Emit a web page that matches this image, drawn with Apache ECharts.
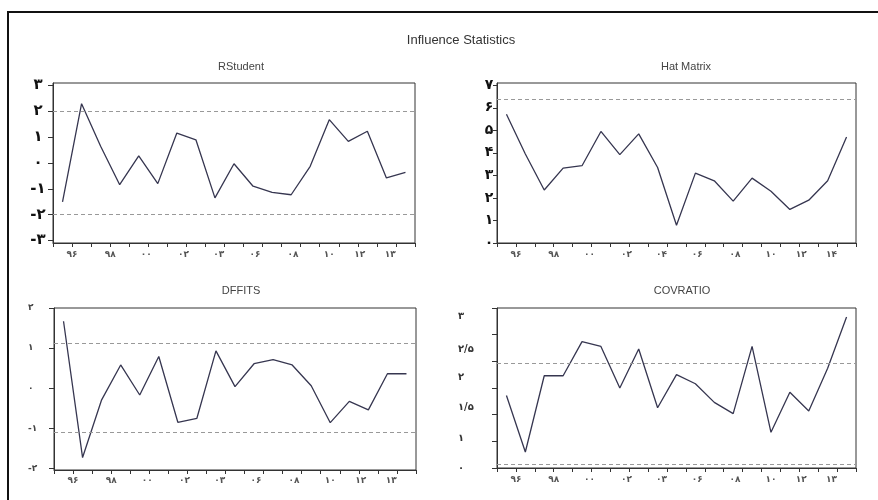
<!DOCTYPE html>
<html>
<head>
<meta charset="utf-8">
<script src="https://cdn.jsdelivr.net/npm/echarts@6/dist/echarts.min.js"></script>
<style>
html,body{margin:0;padding:0;background:#fff;}
#c{width:878px;height:500px;}
</style>
</head>
<body>
<div id="c"></div>
<script>
// ---- data ----
var mainTitle = 'Influence Statistics';
var panelTitles = ['RStudent', 'Hat Matrix', 'DFFITS', 'COVRATIO'];
var years = [1995,1996,1997,1998,1999,2000,2001,2002,2003,2004,2005,2006,2007,2008,2009,2010,2011,2012,2013];
var rstudent = [-1.51, 2.30, 0.65, -0.84, 0.28, -0.80, 1.16, 0.90, -1.35, -0.03, -0.90, -1.14, -1.23, -0.13, 1.68, 0.84, 1.23, -0.58, -0.36];
var hatMatrix = [5.71, 3.95, 2.35, 3.32, 3.43, 4.95, 3.92, 4.84, 3.35, 0.79, 3.10, 2.76, 1.86, 2.88, 2.30, 1.49, 1.90, 2.76, 4.70];
var dffits = [1.67, -1.73, -0.29, 0.58, -0.17, 0.79, -0.85, -0.75, 0.93, 0.04, 0.61, 0.71, 0.58, 0.06, -0.86, -0.33, -0.54, 0.36, 0.36];
var covratio = [1.36, 0.30, 1.73, 1.73, 2.37, 2.28, 1.50, 2.23, 1.13, 1.75, 1.58, 1.23, 1.02, 2.28, 0.67, 1.42, 1.07, 1.87, 2.83];
var refRStudent = [2, -2];
var refHat = [6.37];
var refDffits = [1.12, -1.11];
var refCov = [1.96, 0.07];
var xLabels1 = ['۹۶','۹۸','۰۰','۰۲','۰۳','۰۶','۰۸','۱۰','۱۲','۱۳'];
var xLabels2 = ['۹۶','۹۸','۰۰','۰۲','۰۴','۰۶','۰۸','۱۰','۱۲','۱۴'];
var yTicks1 = [-3,-2,-1,0,1,2,3];
var yTicks2 = [0,1,2,3,4,5,6,7];
var yTicks3 = [-2,-1,0,1,2];
var yLabels4 = ['۰','۱','۱/۵','۲','۲/۵','۳'];

// ---- helpers ----
function fa(n){
  var d = '۰۱۲۳۴۵۶۷۸۹';
  return String(n).replace(/[0-9]/g, function(c){ return d[+c]; });
}
var xLabelPos = [1, 3, 4.9, 6.85, 8.7, 10.6, 12.6, 14.5, 16.1, 17.7];
var yLabelPos4 = [0, 0.56, 1.14, 1.70, 2.23, 2.84];
function nearestIdx(arr, v){
  var b = 0, bd = Infinity;
  for (var i = 0; i < arr.length; i++){ var d = Math.abs(arr[i]-v); if (d < bd){ bd = d; b = i; } }
  return b;
}
var FONT = 'DejaVu Sans';
var grids = [
  {left:53, top:83, width:362, height:160},
  {left:497, top:83, width:359, height:160},
  {left:54, top:308, width:362, height:162},
  {left:497, top:308, width:359, height:160}
];
var seriesVals = [rstudent, hatMatrix, dffits, covratio];
var refs = [refRStudent, refHat, refDffits, refCov];

function xAxis(i, labels, margin){
  return {
    type:'value', gridIndex:i, min:0, max:years.length, interval:1,
    axisLine:{show:true, onZero:false, lineStyle:{color:'#333', width:1}},
    axisTick:{show:true, length:4, lineStyle:{color:'#333'}},
    splitLine:{show:false},
    axisLabel:{
      customValues:xLabelPos, margin:margin, fontSize:9, fontWeight:'bold',
      color:'#555', fontFamily:FONT,
      formatter:function(v){ return labels[nearestIdx(xLabelPos, v)]; }
    }
  };
}

var option = {
  animation:false,
  backgroundColor:'#fff',
  title:[
    {text:mainTitle, left:456, top:29, textAlign:'center',
     textStyle:{fontFamily:'Liberation Sans', fontSize:13, fontWeight:'normal', color:'#333'}},
    {text:panelTitles[0], left:236, top:56, textAlign:'center',
     textStyle:{fontFamily:'Liberation Sans', fontSize:11, fontWeight:'normal', color:'#444'}},
    {text:panelTitles[1], left:681, top:56, textAlign:'center',
     textStyle:{fontFamily:'Liberation Sans', fontSize:11, fontWeight:'normal', color:'#444'}},
    {text:panelTitles[2], left:236, top:280, textAlign:'center',
     textStyle:{fontFamily:'Liberation Sans', fontSize:11, fontWeight:'normal', color:'#444'}},
    {text:panelTitles[3], left:677, top:280, textAlign:'center',
     textStyle:{fontFamily:'Liberation Sans', fontSize:11, fontWeight:'normal', color:'#444'}}
  ],
  graphic:[
    {type:'rect', shape:{x:8, y:12, width:900, height:520}, style:{fill:'none', stroke:'#111', lineWidth:2}, silent:true}
  ],
  grid: grids.map(function(g){ return Object.assign({show:true, borderColor:'#333', borderWidth:1, backgroundColor:'transparent'}, g); }),
  xAxis:[ xAxis(0, xLabels1, 7), xAxis(1, xLabels2, 7), xAxis(2, xLabels1, 6), xAxis(3, xLabels1, 7) ],
  yAxis:[
    {type:'value', gridIndex:0, min:-3.1, max:3.1,
     axisLine:{show:true, lineStyle:{color:'#333'}},
     axisTick:{show:true, length:5, customValues:yTicks1, lineStyle:{color:'#333'}},
     splitLine:{show:false},
     axisLabel:{customValues:yTicks1, align:'center', margin:15, fontSize:15, fontWeight:'bold', color:'#111', fontFamily:FONT,
       formatter:function(v){ return fa(v); }}},
    {type:'value', gridIndex:1, min:0, max:7.1,
     axisLine:{show:true, lineStyle:{color:'#333'}},
     axisTick:{show:true, length:4, customValues:yTicks2, lineStyle:{color:'#333'}},
     splitLine:{show:false},
     axisLabel:{customValues:yTicks2, align:'center', margin:8, fontSize:14, fontWeight:'bold', color:'#111', fontFamily:FONT,
       formatter:function(v){ return fa(v); }}},
    {type:'value', gridIndex:2, min:-2.04, max:2,
     axisLine:{show:true, lineStyle:{color:'#333'}},
     axisTick:{show:true, length:5, customValues:yTicks3, lineStyle:{color:'#333'}},
     splitLine:{show:false},
     axisLabel:{customValues:yTicks3, align:'left', margin:26, fontSize:9, fontWeight:'bold', color:'#444', fontFamily:FONT,
       formatter:function(v){ return fa(v); }}},
    {type:'value', gridIndex:3, min:0, max:3, interval:0.5,
     axisLine:{show:true, lineStyle:{color:'#333'}},
     axisTick:{show:true, length:5, lineStyle:{color:'#333'}},
     splitLine:{show:false},
     axisLabel:{customValues:yLabelPos4, align:'left', margin:39, fontSize:10, fontWeight:'bold', color:'#333', fontFamily:FONT,
       formatter:function(v){ return yLabels4[nearestIdx(yLabelPos4, v)]; }}}
  ],
  series: seriesVals.map(function(vals, i){
    return {
      type:'line', xAxisIndex:i, yAxisIndex:i, symbol:'none',
      lineStyle:{color:'#363650', width:1.3},
      data: vals.map(function(v, k){ return [k + 0.5, v]; }),
      markLine:{
        silent:true, symbol:['none','none'], label:{show:false},
        lineStyle:{color:'#999', type:[4,3], width:1},
        data: refs[i].map(function(r){ return {yAxis:r}; })
      }
    };
  })
};

var chart = echarts.init(document.getElementById('c'), null, {renderer:'canvas'});
chart.setOption(option);
</script>
</body>
</html>
